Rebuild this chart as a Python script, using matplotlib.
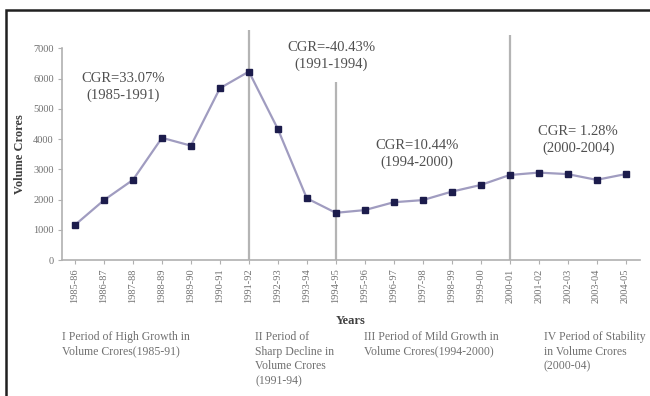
import matplotlib
matplotlib.use("Agg")
import matplotlib.pyplot as plt
from matplotlib.patches import Rectangle

# data
years = ["1985-86", "1986-87", "1987-88", "1988-89", "1989-90", "1990-91",
         "1991-92", "1992-93", "1993-94", "1994-95", "1995-96", "1996-97",
         "1997-98", "1998-99", "1999-00", "2000-01", "2001-02", "2002-03",
         "2003-04", "2004-05"]
volume = [1160, 1980, 2650, 4040, 3780, 5680, 6230, 4330, 2040, 1560,
          1650, 1910, 1980, 2260, 2480, 2810, 2890, 2840, 2650, 2840]
yticks = [0, 1000, 2000, 3000, 4000, 5000, 6000, 7000]

# period boundaries (index of year) and annotation texts
breaks = [6, 9, 15]
break_tops = [7600, 5900, 7450]
cgr_labels = ["CGR=33.07%\n(1985-1991)", "CGR=-40.43%\n(1991-1994)",
              "CGR=10.44%\n(1994-2000)", "CGR= 1.28%\n(2000-2004)"]
cgr_x = [1.66, 8.84, 11.8, 17.37]
cgr_y = [5720, 6750, 3500, 3970]
period_notes = ["I Period of High Growth in\nVolume Crores(1985-91)",
                "II Period of\nSharp Decline in\nVolume Crores\n(1991-94)",
                "III Period of Mild Growth in\nVolume Crores(1994-2000)",
                "IV Period of Stability\nin Volume Crores\n(2000-04)"]
note_x = [62, 255, 364, 544]

plt.rcParams['font.family'] = ['Liberation Serif', 'DejaVu Serif']

fig = plt.figure(figsize=(6.5, 3.96), dpi=100)
ax = fig.add_axes([62 / 650, 1 - 260 / 396, 578 / 650, 211.7 / 396])

x = list(range(len(years)))
ax.plot(x, volume, color="#a09cc0", lw=1.6, marker="s", ms=4.5,
        mfc="#1c1c4c", mec="#1c1c4c", zorder=3)

for b, top in zip(breaks, break_tops):
    ax.vlines(b, 0, top, color="#b4b4b4", lw=1.6, clip_on=False, zorder=2)

for t, cx, cy in zip(cgr_labels, cgr_x, cgr_y):
    ax.text(cx, cy, t, ha="center", va="center", fontsize=10.5,
            color="#505050", linespacing=1.4)

ax.set_xlim(-0.45, 19.5)
ax.set_ylim(0, 7000)
ax.set_xticks(x)
ax.set_xticklabels(years, rotation=90, fontsize=7.5, color="#707070")
ax.set_yticks(yticks)
ax.set_yticklabels([str(v) for v in yticks], fontsize=7.5, color="#707070")
ax.tick_params(axis="both", length=3, color="#b0b0b0", pad=3)
for s in ["top", "right"]:
    ax.spines[s].set_visible(False)
for s in ["left", "bottom"]:
    ax.spines[s].set_color("#b0b0b0")
    ax.spines[s].set_linewidth(1.2)

ax.set_ylabel("Volume Crores", fontsize=9, fontweight="bold", color="#404040",
              labelpad=5)

fig.text(351 / 650, 1 - 321 / 396, "Years", ha="center", va="center",
         fontsize=9, fontweight="bold", color="#404040")

for t, nx in zip(period_notes, note_x):
    fig.text(nx / 650, 1 - 331 / 396, t, ha="left", va="top", fontsize=8.5,
             color="#707070", linespacing=1.3)

# black frame running off the right and bottom edges
fig.patches.append(Rectangle((6 / 650, -0.1), 1.1, 1 - 10 / 396 + 0.1,
                             transform=fig.transFigure, fill=False,
                             ec="#202020", lw=1.8))

fig.savefig("out.png", dpi=100)
